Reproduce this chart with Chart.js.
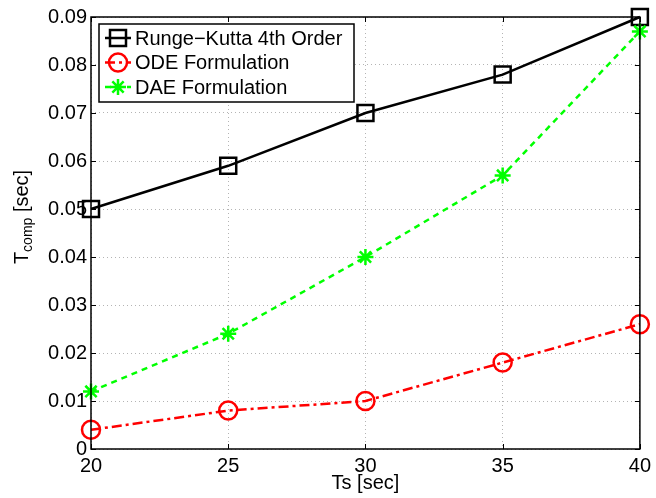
<!DOCTYPE html>
<html>
<head>
<meta charset="utf-8">
<script src="https://cdn.jsdelivr.net/npm/chart.js@4/dist/chart.umd.min.js"></script>
<style>
  html, body { margin: 0; padding: 0; background: #fff; }
  #wrap { width: 656px; height: 498px; }
</style>
</head>
<body>
<div id="wrap"><canvas id="c"></canvas></div>
<script>
// --- data ---
const tsValues   = [20, 25, 30, 35, 40];
const rungeKutta = [0.050, 0.059, 0.070, 0.078, 0.090];
const odeForm    = [0.004, 0.008, 0.010, 0.018, 0.026];
const daeForm    = [0.012, 0.024, 0.040, 0.057, 0.087];
const seriesNames = ['Runge\u2212Kutta 4th Order', 'ODE Formulation', 'DAE Formulation'];
const xTicks = [20, 25, 30, 35, 40];
const yTicks = [0, 0.01, 0.02, 0.03, 0.04, 0.05, 0.06, 0.07, 0.08, 0.09];

const FONT = '"Liberation Sans", Arial, Helvetica, sans-serif';

function pts(ys) {
    return ys.map((y, i) => ({ x: tsValues[i], y: y }));
}

// markers drawn by hand so the legend can reuse them
function drawMarker(ctx, style, x, y, color) {
    ctx.save();
    ctx.strokeStyle = color;
    ctx.lineWidth = 2.5;
    ctx.setLineDash([]);
    ctx.beginPath();
    if (style === 'rect') {
        ctx.rect(x - 8, y - 8, 16, 16);
    } else if (style === 'circle') {
        ctx.arc(x, y, 9, 0, Math.PI * 2);
    } else if (style === 'star') {
        const r = 8, d = r * Math.SQRT1_2;
        ctx.moveTo(x - r, y); ctx.lineTo(x + r, y);
        ctx.moveTo(x, y - r); ctx.lineTo(x, y + r);
        ctx.moveTo(x - d, y - d); ctx.lineTo(x + d, y + d);
        ctx.moveTo(x - d, y + d); ctx.lineTo(x + d, y - d);
    }
    ctx.stroke();
    ctx.restore();
}

const matlabLook = {
    id: 'matlabLook',
    afterDatasetsDraw(chart) {
        const ctx = chart.ctx;
        chart.data.datasets.forEach((ds, i) => {
            const meta = chart.getDatasetMeta(i);
            meta.data.forEach(p => drawMarker(ctx, ds.markerStyle, p.x, p.y, ds.borderColor));
        });
    },
    afterDraw(chart) {
        const ctx = chart.ctx;
        const a = chart.chartArea;
        const xs = chart.scales.x, ys = chart.scales.y;
        ctx.save();
        // frame
        ctx.strokeStyle = '#000';
        ctx.lineWidth = 1.5;
        ctx.strokeRect(a.left, a.top, a.right - a.left, a.bottom - a.top);
        // inward ticks on all four sides
        ctx.lineWidth = 1;
        ctx.beginPath();
        xTicks.forEach(t => {
            const px = Math.round(xs.getPixelForValue(t)) + 0.5;
            ctx.moveTo(px, a.bottom); ctx.lineTo(px, a.bottom - 5);
            ctx.moveTo(px, a.top); ctx.lineTo(px, a.top + 5);
        });
        yTicks.forEach(t => {
            const py = Math.round(ys.getPixelForValue(t)) + 0.5;
            ctx.moveTo(a.left, py); ctx.lineTo(a.left + 5, py);
            ctx.moveTo(a.right, py); ctx.lineTo(a.right - 5, py);
        });
        ctx.stroke();

        // y title with subscript
        ctx.fillStyle = '#000';
        ctx.translate(22, 217);
        ctx.rotate(-Math.PI / 2);
        ctx.textBaseline = 'alphabetic';
        ctx.textAlign = 'left';
        const big = '20px ' + FONT, small = '14px ' + FONT;
        ctx.font = big;  const w1 = ctx.measureText('T').width;
        ctx.font = small; const w2 = ctx.measureText('comp').width;
        ctx.font = big;  const w3 = ctx.measureText(' [sec]').width;
        let x0 = -(w1 + w2 + w3) / 2;
        ctx.font = big;  ctx.fillText('T', x0, 6);
        ctx.font = small; ctx.fillText('comp', x0 + w1, 10);
        ctx.font = big;  ctx.fillText(' [sec]', x0 + w1 + w2, 6);
        ctx.restore();

        // x title
        ctx.save();
        ctx.fillStyle = '#000';
        ctx.font = '20px ' + FONT;
        ctx.textAlign = 'center';
        ctx.textBaseline = 'alphabetic';
        ctx.fillText('Ts [sec]', (a.left + a.right) / 2, 489);
        ctx.restore();

        // legend box inside the axes
        ctx.save();
        const bx = a.left + 8, by = a.top + 7, bw = 255, bh = 78;
        ctx.fillStyle = '#fff';
        ctx.fillRect(bx, by, bw, bh);
        ctx.strokeStyle = '#000';
        ctx.lineWidth = 1.5;
        ctx.strokeRect(bx, by, bw, bh);
        ctx.font = '20px ' + FONT;
        ctx.textBaseline = 'middle';
        ctx.textAlign = 'left';
        chart.data.datasets.forEach((ds, i) => {
            const ry = by + 14 + i * 24.5;
            ctx.strokeStyle = ds.borderColor;
            ctx.lineWidth = 2.5;
            ctx.setLineDash(ds.borderDash || []);
            ctx.beginPath();
            ctx.moveTo(bx + 6, ry); ctx.lineTo(bx + 32, ry);
            ctx.stroke();
            ctx.setLineDash([]);
            drawMarker(ctx, ds.markerStyle, bx + 19, ry, ds.borderColor);
            ctx.fillStyle = '#000';
            ctx.fillText(ds.label, bx + 36, ry + 1);
        });
        ctx.restore();
    }
};

new Chart(document.getElementById('c'), {
    type: 'line',
    data: {
        datasets: [
            { label: seriesNames[0], data: pts(rungeKutta), borderColor: '#000000', borderWidth: 2.5,
              markerStyle: 'rect', pointRadius: 0, clip: false },
            { label: seriesNames[1], data: pts(odeForm), borderColor: '#ff0000', borderWidth: 2.5,
              borderDash: [10, 4, 3, 4], markerStyle: 'circle', pointRadius: 0, clip: false },
            { label: seriesNames[2], data: pts(daeForm), borderColor: '#00ff00', borderWidth: 2.5,
              borderDash: [6, 5], markerStyle: 'star', pointRadius: 0, clip: false }
        ]
    },
    options: {
        responsive: true,
        maintainAspectRatio: false,
        animation: false,
        layout: { padding: { left: 0, top: 17, right: 13, bottom: 0 } },
        plugins: { legend: { display: false }, tooltip: { enabled: false } },
        scales: {
            x: {
                type: 'linear', min: 20, max: 40,
                afterBuildTicks: s => { s.ticks = xTicks.map(v => ({ value: v })); },
                afterFit: s => { s.height = 49; },
                ticks: { color: '#000', font: { family: FONT, size: 20 }, padding: 5, maxRotation: 0,
                         callback: v => String(v) },
                grid: { color: '#b4b4b4', drawTicks: false, lineWidth: 1 },
                border: { display: false, dash: [1, 3] }
            },
            y: {
                type: 'linear', min: 0, max: 0.09,
                afterBuildTicks: s => { s.ticks = yTicks.map(v => ({ value: v })); },
                afterFit: s => { s.width = 91; },
                ticks: { color: '#000', font: { family: FONT, size: 20 }, padding: 4,
                         callback: v => v === 0 ? '0' : v.toFixed(2) },
                grid: { color: '#b4b4b4', drawTicks: false, lineWidth: 1 },
                border: { display: false, dash: [1, 3] }
            }
        }
    },
    plugins: [matlabLook]
});
</script>
</body>
</html>
